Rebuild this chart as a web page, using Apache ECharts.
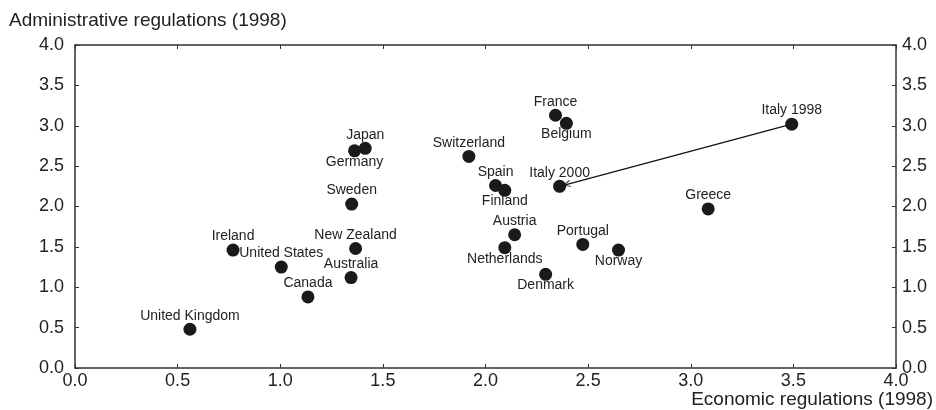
<!DOCTYPE html>
<html>
<head>
<meta charset="utf-8">
<script src="https://cdn.jsdelivr.net/npm/echarts@6/dist/echarts.min.js"></script>
<style>html,body{margin:0;padding:0;background:#fff}#c{width:936px;height:410px}</style>
</head>
<body>
<div id="c"></div>
<script>
const countries = ['United Kingdom','Ireland','United States','Canada','Australia','New Zealand','Sweden','Germany','Japan','Switzerland','Spain','Finland','France','Belgium','Italy 2000','Italy 1998','Greece','Austria','Netherlands','Portugal','Norway','Denmark'];
const economic = [0.56,0.77,1.005,1.135,1.345,1.367,1.348,1.362,1.414,1.919,2.049,2.094,2.341,2.394,2.361,3.492,3.085,2.142,2.094,2.474,2.648,2.293];
const administrative = [0.48,1.46,1.25,0.88,1.12,1.48,2.03,2.69,2.72,2.62,2.26,2.20,3.13,3.03,2.25,3.02,1.97,1.65,1.49,1.53,1.46,1.16];
const arrowFrom = 'Italy 1998';
const arrowTo = 'Italy 2000';
const xTitle = 'Economic regulations (1998)';
const yTitle = 'Administrative regulations (1998)';
const axisMin = 0, axisMax = 4, axisStep = 0.5;

// label placement (style only)
const labelsBelow = ['Germany','Finland','Belgium','Netherlands','Norway','Denmark'];

const font = '"Liberation Sans", Arial, Helvetica, sans-serif';
const textColor = '#222';
const axisColor = '#333';

const points = countries.map((n, i) => ({ name: n, value: [economic[i], administrative[i]] }));

const iFrom = countries.indexOf(arrowFrom), iTo = countries.indexOf(arrowTo);

const fmt = v => v.toFixed(1);

const chart = echarts.init(document.getElementById('c'), null, { renderer: 'canvas' });
const baseAxis = {
  type: 'value', min: axisMin, max: axisMax, interval: axisStep,
  axisLine: { show: true, onZero: false, lineStyle: { color: axisColor, width: 1.5 } },
  axisTick: { show: true, inside: true, length: 4, lineStyle: { color: axisColor, width: 1 } },
  splitLine: { show: false },
  axisLabel: { fontFamily: font, fontSize: 18, color: textColor, formatter: fmt }
};
chart.setOption({
  animation: false,
  backgroundColor: '#fff',
  grid: { left: 75, right: 40, top: 45, bottom: 42, containLabel: false },
  xAxis: [
    Object.assign({}, baseAxis, { position: 'bottom', axisLabel: Object.assign({}, baseAxis.axisLabel, { margin: 4 }) }),
    Object.assign({}, baseAxis, { position: 'top', axisLabel: { show: false } })
  ],
  yAxis: [
    Object.assign({}, baseAxis, { position: 'left', axisLabel: Object.assign({}, baseAxis.axisLabel, { margin: 11 }) }),
    Object.assign({}, baseAxis, { position: 'right', axisLabel: Object.assign({}, baseAxis.axisLabel, { margin: 6 }) })
  ],
  graphic: [
    { type: 'text', left: 9, top: 11, style: { text: yTitle, font: '19px ' + font, fill: textColor } },
    { type: 'text', right: 3, top: 390, style: { text: xTitle, font: '19px ' + font, fill: textColor } }
  ],
  series: [
    {
      type: 'scatter',
      xAxisIndex: 0, yAxisIndex: 0,
      z: 1,
      data: [],
      markLine: {
        silent: true,
        z: 1,
        symbol: ['none', 'path://M0,10 L5,0 L10,10 L8.6,10 L5,2.6 L1.4,10 Z'],
        symbolSize: [7, 8],
        symbolOffset: [[0, 0], [0, 7]],
        label: { show: false },
        lineStyle: { color: '#111', width: 1.2, type: 'solid', opacity: 1 },
        data: [[
          { coord: [economic[iFrom], administrative[iFrom]] },
          { coord: [economic[iTo], administrative[iTo]] }
        ]]
      }
    },
    {
      type: 'scatter',
      xAxisIndex: 0, yAxisIndex: 0,
      z: 3,
      symbol: 'circle',
      symbolSize: 13,
      itemStyle: { color: '#1a1a1a', opacity: 1 },
      label: {
        show: true, position: 'inside', formatter: p => p.name,
        fontFamily: font, fontSize: 14, color: textColor,
        align: 'center', verticalAlign: 'middle'
      },
      labelLayout: p => ({ dy: labelsBelow.includes(countries[p.dataIndex]) ? 11 : -13.5, hideOverlap: false }),
      data: points
    }
  ]
});
</script>
</body>
</html>
